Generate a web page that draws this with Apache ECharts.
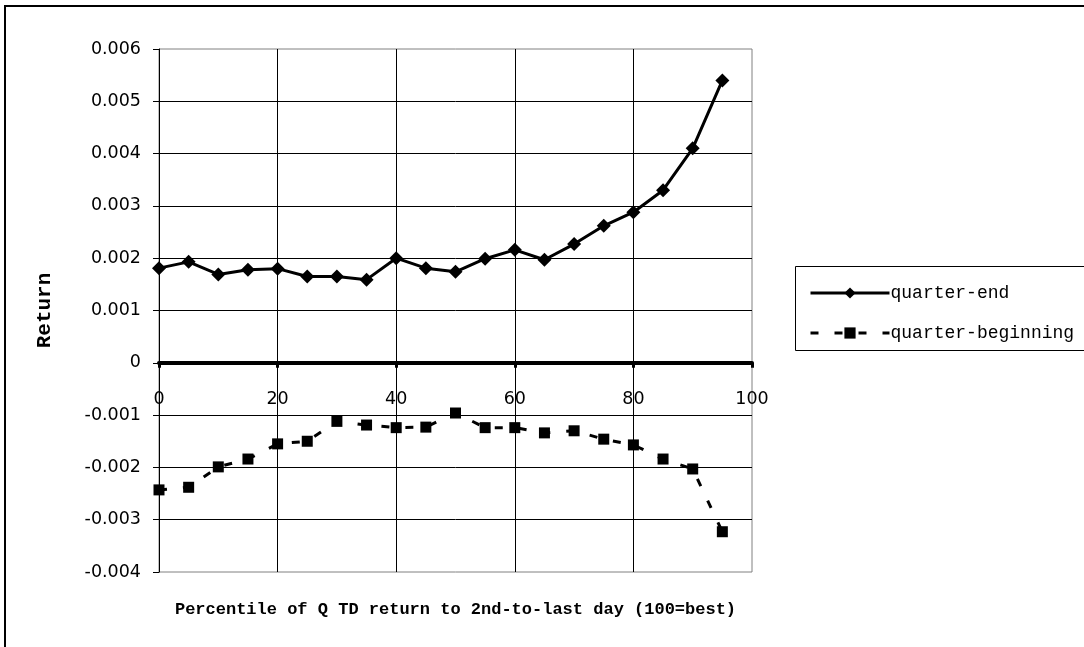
<!DOCTYPE html>
<html>
<head>
<meta charset="utf-8">
<script src="https://cdn.jsdelivr.net/npm/echarts@6/dist/echarts.min.js"></script>
<style>
html,body{margin:0;padding:0;background:#fff;}
#chart{width:1084px;height:647px;}
</style>
</head>
<body>
<div id="chart"></div>
<script>
const percentiles = [0,5,10,15,20,25,30,35,40,45,50,55,60,65,70,75,80,85,90,95];
const quarterEnd = [0.00181,0.00193,0.00169,0.00178,0.00180,0.00165,0.00165,0.00159,0.00200,0.00181,
                    0.00174,0.00199,0.00216,0.00197,0.00227,0.00262,0.00288,0.00330,0.00410,0.00540];
const quarterBeginning = [-0.00243,-0.00238,-0.00199,-0.00184,-0.00155,-0.00150,-0.00112,-0.00119,-0.00124,-0.00123,
                          -0.00096,-0.00124,-0.00124,-0.00134,-0.00130,-0.00146,-0.00157,-0.00184,-0.00203,-0.00323];
const seriesNames = ['quarter-end','quarter-beginning'];
const xAxisTitle = 'Percentile of Q TD return to 2nd-to-last day (100=best)';
const yAxisTitle = 'Return';

function pairs(xs, ys){ return xs.map((x,i)=>[x, ys[i]]); }

const chart = echarts.init(document.getElementById('chart'), null, {renderer:'canvas'});
const labelFont = {fontFamily:'DejaVu Sans', fontSize:17.5, color:'#000'};
const titleFont = {fontFamily:'Liberation Mono', fontWeight:'bold', fontSize:17, color:'#000'};

chart.setOption({
  animation:false,
  backgroundColor:'#fff',
  grid:{left:159, right:332, top:49, bottom:75, containLabel:false, outerBoundsMode:'none',
        show:true, borderColor:'#808080', borderWidth:1, backgroundColor:'transparent'},
  graphic:[
    {type:'rect', shape:{x:5, y:6, width:1200, height:800}, style:{fill:'none', stroke:'#000', lineWidth:2}, silent:true},
    {type:'rect', shape:{x:795.5, y:266.5, width:400, height:84}, style:{fill:'none', stroke:'#000', lineWidth:1}, silent:true}
  ],
  legend:{
    orient:'vertical', left:804, top:279, itemWidth:79, itemHeight:14, itemGap:22,
    data:seriesNames,
    lineStyle:{width:3},
    textStyle:{fontFamily:'Liberation Mono', fontSize:18, color:'#000', padding:[0,0,0,-4]}
  },
  xAxis:{
    type:'value', min:0, max:100, interval:20,
    name:xAxisTitle, nameLocation:'middle', nameGap:29,
    nameTextStyle:titleFont,
    axisLine:{onZero:true, lineStyle:{color:'#000', width:4}},
    axisTick:{show:true, length:5, lineStyle:{color:'#000', width:3}},
    axisLabel:Object.assign({margin:-182}, labelFont),
    splitLine:{show:true, showMinLine:false, showMaxLine:false, lineStyle:{color:'#000', width:1}}
  },
  yAxis:{
    type:'value', min:-0.004, max:0.006, interval:0.001,
    name:yAxisTitle, nameLocation:'middle', nameGap:104, nameRotate:90,
    nameTextStyle:Object.assign({}, titleFont, {fontSize:21}),
    axisLine:{show:true, onZero:false, lineStyle:{color:'#000', width:1}},
    axisTick:{show:true, length:6, lineStyle:{color:'#000', width:1}},
    axisLabel:Object.assign({margin:18, formatter:function(v){ return Math.abs(v) < 1e-9 ? '0' : v.toFixed(3); }}, labelFont),
    splitLine:{show:true, showMinLine:false, showMaxLine:false, lineStyle:{color:'#000', width:1}}
  },
  series:[
    {
      name:seriesNames[0], type:'line', data:pairs(percentiles, quarterEnd),
      symbol:'diamond', symbolSize:14, showAllSymbol:true,
      itemStyle:{color:'#000'}, lineStyle:{color:'#000', width:3}, z:3
    },
    {
      name:seriesNames[1], type:'line', data:pairs(percentiles, quarterBeginning),
      symbol:'rect', symbolSize:11, showAllSymbol:true,
      itemStyle:{color:'#000'}, lineStyle:{color:'#000', width:3, type:[8,16]}, z:3
    }
  ]
});
</script>
</body>
</html>
